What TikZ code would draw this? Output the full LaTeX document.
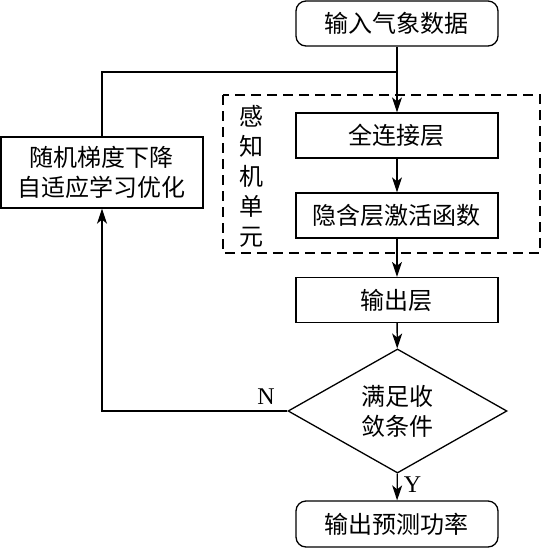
\documentclass[tikz,border=0pt]{standalone}
\usepackage{fontspec}
\setmainfont{Liberation Serif}
\newfontfamily\cjk{Noto Sans CJK SC}
\usetikzlibrary{arrows.meta,shapes.geometric}
\tikzset{
  line/.style={line width=0.65pt},
  arr/.style={line, -{Stealth[length=7.5pt,width=5pt,inset=2pt]}},
  stepbox/.style={draw, line, minimum width=101pt, minimum height=22.5pt, inner sep=0pt, font=\cjk\fontsize{12pt}{15pt}\selectfont},
  endbox/.style={stepbox, rounded corners=5pt},
  test/.style={draw, line, diamond, minimum width=109.5pt, minimum height=52pt, inner sep=0pt, align=center, font=\cjk\fontsize{12pt}{15pt}\selectfont},
  branch/.style={font=\fontsize{12pt}{14pt}\selectfont, inner sep=1pt}
}
\begin{document}
\begin{tikzpicture}[x=0.5pt, y=-0.5pt]
        \useasboundingbox (0,0) rectangle (542,548);
        % perceptron unit
        \draw[line, dash pattern=on 5pt off 3pt] (223,95) rectangle (540,253);
        \node[align=center, font=\cjk\fontsize{12pt}{15pt}\selectfont] (unit) at (252,176) {感\\知\\机\\单\\元};
        
        % main flow
        \node[endbox] (input) at (397,23.5) {输入气象数据};
        \node[stepbox] (fc) at (397,135.5) {全连接层};
        \node[stepbox] (hidden) at (397,215.5) {隐含层激活函数};
        \node[stepbox] (out) at (397,300) {输出层};
        \node[test] (conv) at (397.5,411) {满足收\\敛条件};
        \node[endbox, minimum height=23pt] (power) at (397,524) {输出预测功率};
        % optimiser
        \node[stepbox, minimum height=35.5pt, align=center] (sgd) at (102,172.5) {随机梯度下降\\自适应学习优化};
        \coordinate (join) at (397,72);
        
        % arrows
        \draw[arr] (input) -- (fc);
        \draw[arr] (fc) -- (hidden);
        \draw[arr] (hidden) -- (out);
        \draw[arr] (out) -- (conv);
        \draw[arr] (conv) -- node[branch, right=2pt, pos=0.4] {Y} (power);
        \draw[arr] (conv.west) node[branch, anchor=south east, xshift=-5pt, yshift=2pt] {N} -| (sgd.south); % not converged
        \draw[line] (sgd.north) |- (join);
    \end{tikzpicture}
\end{document}
